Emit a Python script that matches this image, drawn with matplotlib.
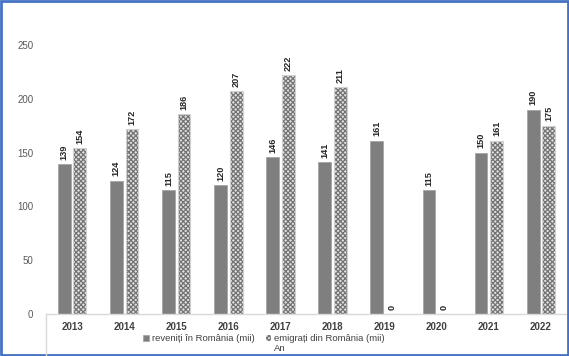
import matplotlib
matplotlib.use("Agg")
import matplotlib.pyplot as plt
import numpy as np
from matplotlib.patches import Rectangle, Patch

years = ["2013", "2014", "2015", "2016", "2017", "2018", "2019", "2020", "2021", "2022"]
reveniti = [139, 124, 115, 120, 146, 141, 161, 115, 150, 190]
emigrati = [154, 172, 186, 207, 222, 211, 0, 0, 161, 175]
yticks = [0, 50, 100, 150, 200, 250]

plt.rcParams['font.family'] = ['Liberation Sans', 'DejaVu Sans']
plt.rcParams['hatch.linewidth'] = 0.9

W, H = 569, 356
fig = plt.figure(figsize=(W / 100, H / 100), dpi=100)
ax = fig.add_axes([46 / W, 1 - 314 / H, (567 - 46) / W, (314 - 45) / H])

x = np.arange(len(years))
bw = 0.245
off = 0.15
ax.bar(x - off, reveniti, width=bw, color='#7f7f7f', edgecolor='#a6a6a6', linewidth=0.6, zorder=2)
ax.bar(x + off, emigrati, width=bw, color='#e0e0e0', edgecolor='#737373', hatch='xxxxxxx', linewidth=0, zorder=2)
ax.bar(x + off, emigrati, width=bw, fill=False, edgecolor='#d0d0d0', linewidth=0.8, zorder=3)

for xi, v in zip(x - off, reveniti):
    ax.text(xi, v + 4, str(v), rotation=90, ha='center', va='bottom', fontsize=6.6,
            fontweight='bold', color='#262626', clip_on=False)
for xi, v in zip(x + off, emigrati):
    ax.text(xi, v + 4, str(v), rotation=90, ha='center', va='bottom', fontsize=6.6,
            fontweight='bold', color='#262626', clip_on=False)

ax.set_xlim(-0.5, len(years) - 0.5)
ax.set_ylim(0, 250)
ax.set_xticks(x)
ax.set_xticklabels(years, fontsize=7, fontweight='bold', color='#404040')
ax.set_yticks(yticks)
ax.set_yticklabels([str(t) for t in yticks], fontsize=7, color='#595959')
ax.tick_params(axis='both', length=0)
ax.tick_params(axis='y', pad=9)
ax.tick_params(axis='x', pad=6)
for s in ['top', 'right', 'left']:
    ax.spines[s].set_visible(False)
ax.spines['bottom'].set_color('#d9d9d9')
ax.spines['bottom'].set_linewidth(1)

# vertical divider line below axis on the left
fig.add_artist(plt.Line2D([46 / W, 46 / W], [0, 1 - 314 / H], color='#d9d9d9', lw=1, transform=fig.transFigure))

handles = [Patch(facecolor='#7f7f7f', edgecolor='#a6a6a6', linewidth=0.6),
           Patch(facecolor='#e0e0e0', edgecolor='#737373', hatch='xxxxxxx', linewidth=0)]
fig.legend(handles, ['reveniți în România (mii)', 'emigrați din România (mii)'],
           loc='center', bbox_to_anchor=(264 / W, 1 - 338.5 / H), ncol=2, frameon=False,
           fontsize=6.8, labelcolor='#404040', handlelength=0.6, handleheight=0.6,
           handletextpad=0.3, columnspacing=1.2, borderpad=0, borderaxespad=0)
fig.text(280 / W, 1 - 348.5 / H, 'An', ha='center', va='center', fontsize=6.8, color='#404040')

# blue border
fig.add_artist(Rectangle((0.002, 0.003), 0.996, 0.994, transform=fig.transFigure, fill=False,
                         edgecolor='#4472c4', linewidth=2))

fig.savefig('out.png', dpi=100)
